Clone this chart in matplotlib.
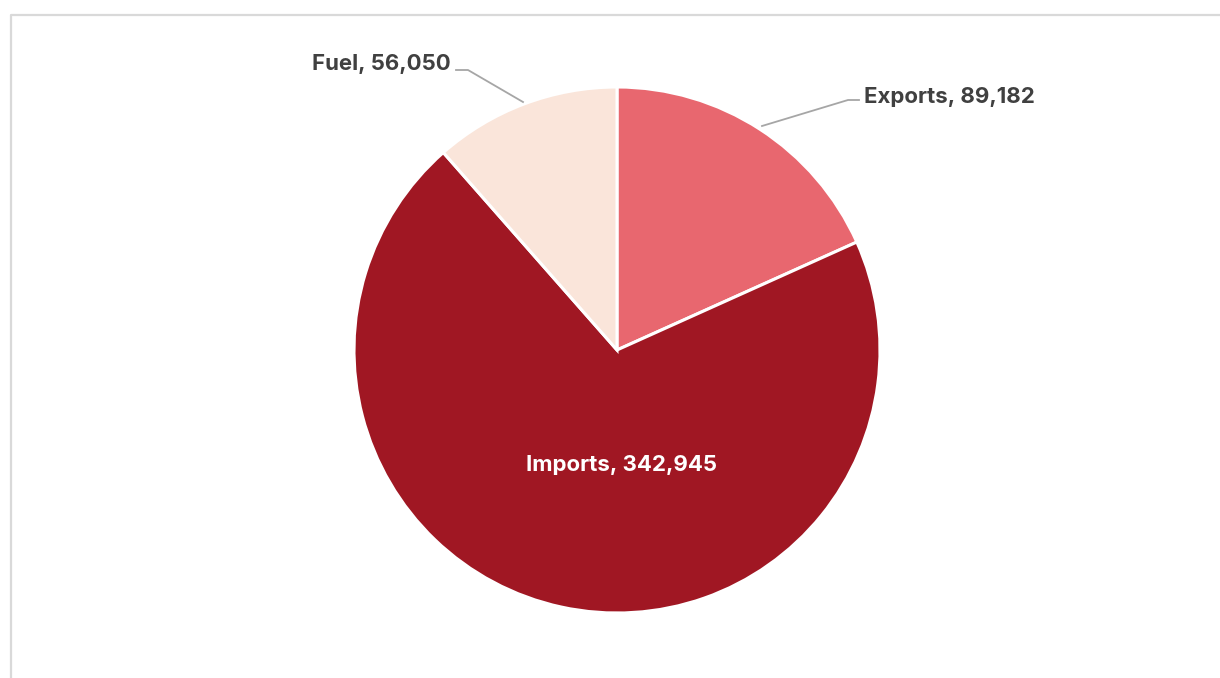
import matplotlib
matplotlib.use("Agg")
import matplotlib.pyplot as plt

categories = ["Exports", "Imports", "Fuel"]
values = [89182, 342945, 56050]
colors = ["#E8676F", "#A01723", "#FAE5DA"]

W, H = 1220, 678
fig = plt.figure(figsize=(W / 100, H / 100), dpi=100)
ax = fig.add_axes([0, 0, 1, 1])
ax.set_aspect("equal")

# frame
ax.plot([10.5, 10.5, W + 5], [-5, H - 14.5, H - 14.5], color="#d9d9d9", lw=1.6,
        solid_capstyle="butt")

cx, cy, r = 617, H - 350, 263
wedges, _ = ax.pie(values, colors=colors, startangle=90, counterclock=False,
                   center=(cx, cy), radius=r, frame=True,
                   wedgeprops=dict(edgecolor="white", linewidth=2.2))
ax.set_xlim(0, W)
ax.set_ylim(0, H)
ax.axis("off")

font = "Inter"
fs = 16
lbl = lambda c, v: f"{c}, {v:,}"

# Imports label inside
ax.text(622, H - 465, lbl(categories[1], values[1]), color="white", fontsize=fs,
        fontweight="bold", family=font, ha="center", va="center")

# Exports label with leader
lc = "#a6a6a6"
ax.plot([762, 848, 859], [H - 126, H - 100, H - 100], color=lc, lw=1.3)
ax.text(864, H - 97, lbl(categories[0], values[0]), color="#404040", fontsize=fs,
        fontweight="bold", family=font, ha="left", va="center")

# Fuel label with leader
ax.plot([456, 468, 523], [H - 70, H - 70, H - 102], color=lc, lw=1.3)
ax.text(451, H - 64, lbl(categories[2], values[2]), color="#404040", fontsize=fs,
        fontweight="bold", family=font, ha="right", va="center")

fig.savefig("out.png", dpi=100, facecolor="white")
